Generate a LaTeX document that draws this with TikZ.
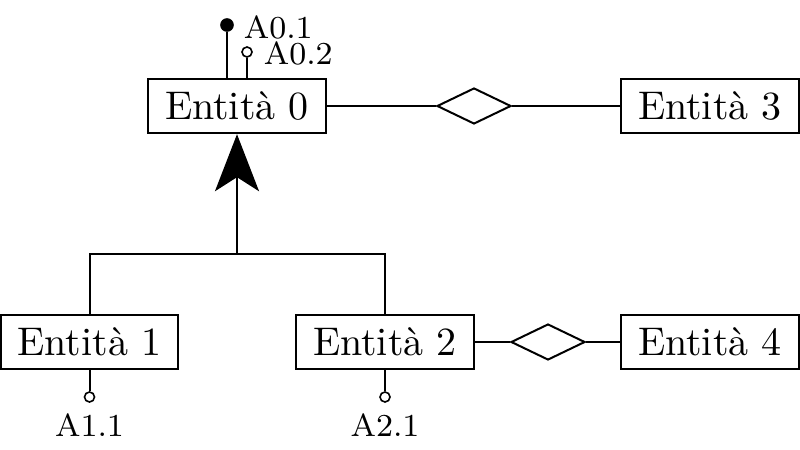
\documentclass[tikz,border=0pt]{standalone}
\usetikzlibrary{shapes.geometric,arrows.meta}
\begin{document}
\begin{tikzpicture}[x=0.25pt,y=-0.25pt,
  ent/.style={draw,line width=0.5pt,minimum width=44.3pt,minimum height=13.6pt,inner sep=0pt},
  rel/.style={draw,diamond,line width=0.5pt,minimum width=18.5pt,minimum height=9pt,inner sep=0pt},
  conn/.style={line width=0.5pt},
  keyatt/.style={circle,fill=black,draw,line width=0.4pt,minimum size=3pt,inner sep=0pt},
  att/.style={circle,fill=white,draw,line width=0.4pt,minimum size=2.5pt,inner sep=0pt},
  lab/.style={font=\footnotesize,inner sep=0pt}]
\useasboundingbox (0,0) rectangle (800,449);
% entities
\node[ent] (E0) at (237,106) {Entità 0};
\node[ent] (E3) at (710,106) {Entità 3};
\node[ent] (E1) at (89.5,342) {Entità 1};
\node[ent] (E2) at (385,342) {Entità 2};
\node[ent] (E4) at (710,342) {Entità 4};
% relationships
\node[rel] (R1) at (474,106) {};
\node[rel] (R2) at (548,342) {};
\draw[conn] (E0) -- (R1) -- (E3);
\draw[conn] (E2) -- (R2) -- (E4);
% generalisation
\coordinate (isa) at (237,254);
\draw[conn] (E1.north) |- (isa) -| (E2.north);
\draw[conn,-{Stealth[length=14.25pt,width=11pt,inset=3.5pt]}] (isa) -- (E0.south);
% attributes of Entita 0
\node[keyatt] (a01) at (227,25) {};
\node[att] (a02) at (247,52) {};
\draw[conn] (a01) -- (a01 |- E0.north);
\draw[conn] (a02) -- (a02 |- E0.north);
\node[lab,anchor=west] (l01) at (243,27) {A0.1};
\node[lab,anchor=west] (l02) at (263,53) {A0.2};
% attributes of Entita 1 and 2
\node[att] (a11) at (89.5,397) {};
\node[att] (a21) at (385,397) {};
\draw[conn] (E1.south) -- (a11);
\draw[conn] (E2.south) -- (a21);
\node[lab] (l11) at (89.5,425) {A1.1};
\node[lab] (l21) at (385,425) {A2.1};
\end{tikzpicture}
\end{document}
